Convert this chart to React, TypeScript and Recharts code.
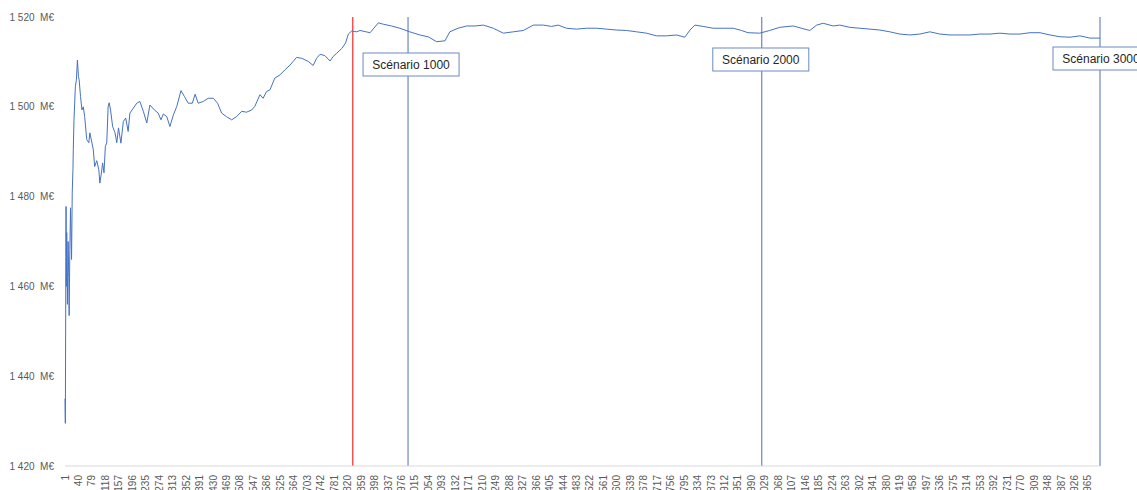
import { Line, LineChart, ReferenceLine, XAxis, YAxis } from 'recharts'

// simulation number (x) and cumulative mean (M€)
const scenarios = [
  1, 2, 4, 5, 6, 8, 10, 12, 13, 15, 17, 19, 20, 22, 24, 25, 27, 31, 34, 37,
  40, 42, 46, 50, 54, 58, 64, 70, 73, 79, 83, 87, 93, 99, 102, 106, 110, 114, 118, 122,
  126, 129, 133, 139, 146, 151, 156, 163, 170, 177, 184, 189, 199, 209, 218, 228, 238, 247, 260, 271,
  279, 286, 296, 305, 315, 325, 337, 347, 358, 370, 378, 387, 402, 416, 431, 443, 455, 469, 484, 498,
  513, 527, 542, 551, 566, 575, 585, 595, 609, 624, 638, 653, 662, 672, 687, 706, 720, 730, 740, 754,
  769, 778, 788, 803, 814, 822, 832, 846, 856, 885, 909, 923, 947, 971, 1000, 1029, 1053, 1078, 1102, 1116,
  1140, 1165, 1189, 1213, 1242, 1271, 1300, 1329, 1358, 1387, 1411, 1430, 1454, 1483, 1512, 1541, 1570, 1599, 1628, 1657,
  1686, 1715, 1744, 1773, 1797, 1812, 1826, 1850, 1879, 1908, 1937, 1961, 1980, 2014, 2043, 2072, 2111, 2135, 2159, 2179,
  2198, 2227, 2246, 2275, 2304, 2333, 2362, 2391, 2420, 2449, 2478, 2507, 2536, 2565, 2594, 2623, 2652, 2681, 2710, 2739,
  2768, 2797, 2826, 2855, 2884, 2913, 2942, 2971, 3000,
]

const meanValues = [
  1435, 1429.5, 1477.8, 1460, 1472, 1456, 1470, 1462, 1453.5, 1468, 1477.5, 1470, 1466, 1481, 1486, 1490.4, 1497, 1504.5, 1506, 1510.4,
  1506.7, 1506, 1502.3, 1499.3, 1500, 1497.8, 1492.7, 1492, 1494.2, 1492, 1490.4, 1486.7, 1488, 1486, 1483, 1485, 1487.5, 1485.3, 1491.2, 1492,
  1500, 1500.9, 1499.3, 1495.6, 1494.2, 1492, 1495.3, 1491.9, 1496.7, 1497.5, 1494.5, 1498.6, 1499.7, 1500.8, 1501.2, 1499, 1496.4, 1500.4, 1499.3, 1498.6,
  1497.1, 1498.4, 1497.8, 1495.6, 1498.2, 1500.1, 1503.6, 1502.3, 1500.8, 1500.8, 1502.8, 1500.8, 1501.2, 1501.9, 1501.9, 1500.8, 1498.6, 1497.8, 1497.1, 1497.8,
  1499, 1498.8, 1499.3, 1500.1, 1502.7, 1501.9, 1503.4, 1503.8, 1506.4, 1507.1, 1508.2, 1509.3, 1510.1, 1511, 1510.8, 1510.1, 1509.2, 1510.8, 1511.7, 1511.4,
  1510.2, 1511.2, 1511.9, 1513, 1514.2, 1516.2, 1516.9, 1516.7, 1517, 1516.5, 1518.7, 1518.4, 1518, 1517.5, 1516.7, 1516, 1515.6, 1514.5, 1514.7, 1516.7,
  1517.5, 1518, 1518, 1518.2, 1517.5, 1516.4, 1516.7, 1517, 1518.2, 1518.2, 1517.9, 1518.2, 1517.5, 1517.3, 1517.5, 1517.5, 1517.3, 1517.1, 1517, 1516.7,
  1516.4, 1515.8, 1515.8, 1516, 1515.5, 1517.1, 1518.2, 1517.9, 1517.5, 1517.5, 1517.5, 1517, 1516.5, 1516.4, 1517, 1517.7, 1518, 1517.5, 1517, 1518.2,
  1518.6, 1518, 1518.2, 1517.7, 1517.5, 1517.3, 1517.1, 1516.7, 1516.2, 1516, 1516.2, 1516.7, 1516.2, 1516, 1516, 1516, 1516.2, 1516.2, 1516.4, 1516.2,
  1516.2, 1516.5, 1516.5, 1516, 1515.6, 1515.5, 1515.8, 1515.3, 1515.3,
]

const xTicks = [
  1, 40, 79, 118, 157, 196, 235, 274, 313, 352, 391, 430, 469, 508, 547, 586, 625, 664, 703, 742,
  781, 820, 859, 898, 937, 976, 1015, 1054, 1093, 1132, 1171, 1210, 1249, 1288, 1327, 1366, 1405, 1444, 1483, 1522,
  1561, 1600, 1639, 1678, 1717, 1756, 1795, 1834, 1873, 1912, 1951, 1990, 2029, 2068, 2107, 2146, 2185, 2224, 2263, 2302,
  2341, 2380, 2419, 2458, 2497, 2536, 2575, 2614, 2653, 2692, 2731, 2770, 2809, 2848, 2887, 2926, 2965,
]

const yTicks = [1420, 1440, 1460, 1480, 1500, 1520]

const convergenceMark = 835
const scenarioMarks = [995, 2020, 3000]
const scenarioLabels = ['Scénario 1000', 'Scénario 2000', 'Scénario 3000']

// label box placement relative to each line (top offset, horizontal shift)
const boxPlacement = [
  { top: 36, shift: 3 },
  { top: 31, shift: -1 },
  { top: 30, shift: 1 },
]

const data = scenarios.map((s, i) => ({ scenario: s, mean: meanValues[i] }))

const FONT = '"Liberation Sans", Arial, sans-serif'
const AXIS_TEXT = '#595959'

function formatMillions(v: number): string {
  const thousands = Math.floor(v / 1000)
  const rest = String(v % 1000).padStart(3, '0')
  return `${thousands}\u00a0${rest}\u00a0\u00a0M€`
}

function XTick({ x, y, payload }: any) {
  return (
    <text
      x={x}
      y={y}
      transform={`rotate(-90, ${x}, ${y})`}
      textAnchor="end"
      dominantBaseline="central"
      fontSize={10}
      fontFamily={FONT}
      fill={AXIS_TEXT}
    >
      {payload.value}
    </text>
  )
}

function scenarioBox(text: string, top: number, shift: number) {
  return (props: any) => {
    const vb = props.viewBox || {}
    const cx = vb.x + shift
    const y0 = vb.y + top
    return (
      <g>
        <rect x={cx - 48} y={y0} width={96} height={23} fill="#ffffff" stroke="#6a8ac6" strokeWidth={1} />
        <text
          x={cx}
          y={y0 + 12}
          textAnchor="middle"
          dominantBaseline="central"
          fontSize={12}
          fontFamily={FONT}
          fill="#262626"
        >
          {text}
        </text>
      </g>
    )
  }
}

export default function App() {
  return (
    <div style={{ width: 1137, height: 490, background: '#fff', fontFamily: FONT }}>
      <style>{'body{margin:0}'}</style>
      <LineChart width={1137} height={490} data={data} margin={{ top: 17, right: 37, bottom: 0, left: 0 }}>
        <XAxis
          dataKey="scenario"
          type="number"
          domain={[1, 3000]}
          ticks={xTicks}
          interval={0}
          height={24}
          tick={<XTick />}
          tickLine={false}
          tickSize={0}
          tickMargin={9}
          axisLine={{ stroke: '#d9d9d9' }}
        />
        <YAxis
          type="number"
          domain={[1420, 1520]}
          ticks={yTicks}
          interval={0}
          width={65}
          tickFormatter={formatMillions}
          tick={{ fontSize: 10, fill: AXIS_TEXT, fontFamily: FONT }}
          tickLine={false}
          tickSize={0}
          tickMargin={11}
          axisLine={false}
        />
        <ReferenceLine x={convergenceMark} stroke="#ff0000" strokeWidth={1} />
        {scenarioMarks.map((m, i) => (
          <ReferenceLine
            key={m}
            x={m}
            stroke="#4f6fad"
            strokeWidth={1}
            label={scenarioBox(scenarioLabels[i], boxPlacement[i].top, boxPlacement[i].shift)}
          />
        ))}
        <Line
          type="linear"
          dataKey="mean"
          stroke="#4472c4"
          strokeWidth={1}
          dot={false}
          activeDot={false}
          isAnimationActive={false}
        />
      </LineChart>
    </div>
  )
}
